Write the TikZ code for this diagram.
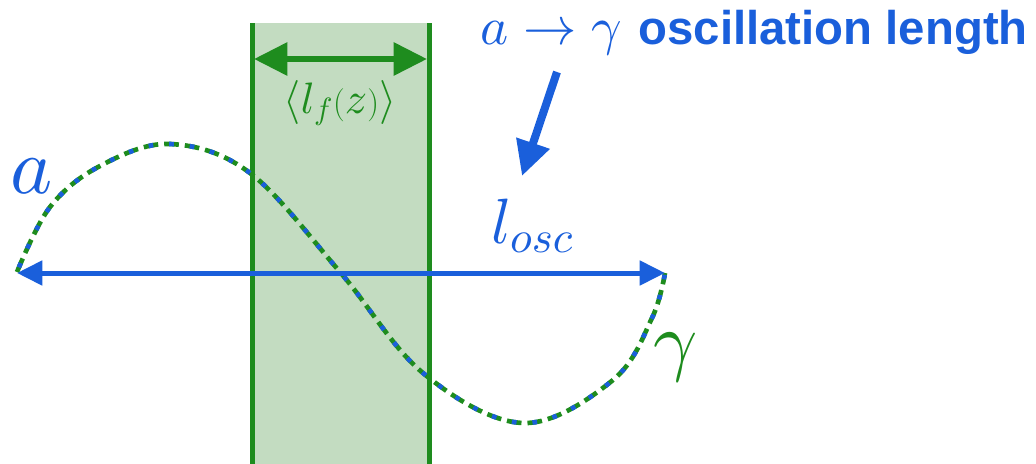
\documentclass[tikz,border=0pt]{standalone}
\usepackage{fontspec}
\setsansfont{Liberation Sans}
\usetikzlibrary{arrows.meta,positioning}
\DeclareFontShape{OML}{cmm}{m}{it}{<->cmmi10}{}
\DeclareFontShape{OMS}{cmsy}{m}{n}{<->cmsy10}{}
\definecolor{oscblue}{HTML}{1A5FDB}
\definecolor{leaf}{HTML}{1E8C1E}
\definecolor{bandfill}{HTML}{C3DCC1}
\tikzset{
  wall/.style={draw=leaf,line width=3.75pt},
  span/.style={{Triangle[length=25pt,width=24pt]}-{Triangle[length=25pt,width=24pt]},line width=4.5pt,draw=leaf},
  osc/.style={{Triangle[length=19pt,width=18pt]}-{Triangle[length=19pt,width=18pt]},line width=3.75pt,draw=oscblue},
  pointer/.style={-{Triangle[length=26pt,width=25pt]},line width=6pt,draw=oscblue},
  wavegreen/.style={draw=leaf,line width=3.5pt,dash pattern=on 11pt off 4.5pt},
  waveblue/.style={draw=oscblue,line width=3.5pt,dash pattern=on 3.5pt off 12pt,dash phase=11.75pt},
  lbl/.style={inner sep=0pt,anchor=base},
}

\begin{document}
\begin{tikzpicture}[x=0.75pt,y=-0.75pt]
  \useasboundingbox (0,0) rectangle (1036,464);
  % filament band
  \fill[bandfill] (252,23) rectangle (429,464);
  \coordinate (bl) at (252,23);
  \coordinate (bl2) at (252,464);
  \coordinate (br) at (429,23);
  \coordinate (br2) at (429,464);
  \draw[wall] (bl) -- (bl2);
  \draw[wall] (br) -- (br2);
  \coordinate (sl) at (254,59);
  \coordinate (sr) at (427,59);
  \draw[span] (sl) -- (sr);
  \node[lbl,text=leaf] (lf) at (340,113) {\fontsize{33}{33}\selectfont$\langle l_f(z)\rangle$};
  % wave
  \foreach \w in {wavegreen,waveblue}
    \draw[\w] plot[smooth,tension=0.6] coordinates {(17,272) (50,207) (100,166) (170,144) (250,173) (340,272) (423,373) (523,423) (613,380) (652,318) (665,273)};
  % oscillation length
  \coordinate (aend) at (17,273);
  \coordinate (gend) at (665,273);
  \draw[osc] (aend) -- (gend);
  \node[lbl,text=oscblue] (losc) at (532,243) {\fontsize{48}{48}\selectfont$l_{osc}$};
  \node[lbl,text=oscblue] (alab) at (32,193) {\fontsize{60}{60}\selectfont$a$};
  \node[lbl,text=leaf] (glab) at (676,366) {\fontsize{58}{58}\selectfont$\gamma$};
  % title
  \node[inner sep=0pt,anchor=base east,text=oscblue] (title) at (1028,45) {\fontsize{40}{40}\selectfont$a\to\gamma$ \fontsize{35.5}{36}\selectfont\sffamily\bfseries oscillation length};
  \coordinate (ptail) at (557,72);
  \coordinate (phead) at (522,176);
  \draw[pointer] (ptail) -- (phead);
\end{tikzpicture}
\end{document}
